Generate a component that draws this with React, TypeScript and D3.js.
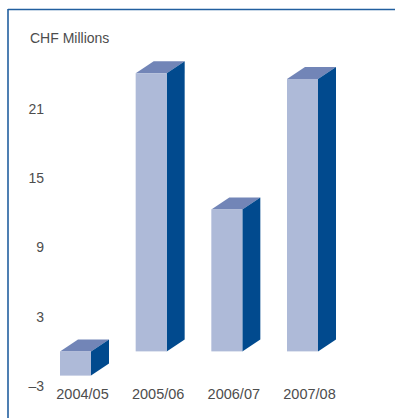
import React from 'react';
import * as d3 from 'd3';

// chart data
const categories = ['2004/05', '2005/06', '2006/07', '2007/08'];
const values = [-2.1, 24.1, 12.3, 23.6];
const tickValues = [-3, 3, 9, 15, 21];
const tickLabels = ['\u20133', '3', '9', '15', '21'];

const App = () => {
  const width = 395;
  const height = 418;
  const font = 'Liberation Sans, Arial, Helvetica, sans-serif';
  const textColor = '#4d4d4d';

  // colours of the 3d bar faces
  const front = '#aebad8';
  const side = '#014a8e';
  const top = '#7285b7';

  // y scale: -3 sits at 386, 21 at 109
  const yScale = d3.scaleLinear().domain([-3, 21]).range([386, 109]);
  // bar centres
  const xScale = d3.scalePoint<string>().domain(categories).range([75.5, 302.5]);

  const barW = 31;
  const dx = 18;
  const dy = 12;

  return (
    <svg width={width} height={height} style={{ position: 'absolute', left: 0, top: 0 }}>
      <rect width={width} height={height} fill="#fff" />
      {/* frame */}
      <line x1={8} y1={9.5} x2={width} y2={9.5} stroke="#225f9f" strokeWidth={1.6} />
      <line x1={8} y1={9} x2={8} y2={height} stroke="#225f9f" strokeWidth={1.6} />

      <text x={30} y={42.5} fontFamily={font} fontSize={14} fill={textColor}>CHF Millions</text>

      {/* y tick labels */}
      {tickValues.map((t, i) => (
        <text key={t} x={44} y={yScale(t)} dy="0.35em" textAnchor="end"
          fontFamily={font} fontSize={14} fill={textColor}>{tickLabels[i]}</text>
      ))}

      {/* bars */}
      {categories.map((c, i) => {
        const cx = xScale(c)!;
        const x0 = cx - barW / 2;
        const x1 = cx + barW / 2;
        const yTop = Math.min(yScale(0), yScale(values[i]));
        const yBot = Math.max(yScale(0), yScale(values[i]));
        return (
          <g key={c}>
            <polygon fill={top}
              points={`${x0},${yTop} ${x0 + dx},${yTop - dy} ${x1 + dx},${yTop - dy} ${x1},${yTop}`} />
            <polygon fill={side}
              points={`${x1},${yTop} ${x1 + dx},${yTop - dy} ${x1 + dx},${yBot - dy} ${x1},${yBot}`} />
            <rect x={x0} y={yTop} width={barW} height={yBot - yTop} fill={front} />
          </g>
        );
      })}

      {/* x labels */}
      {categories.map(c => (
        <text key={c} x={xScale(c)! + 7} y={399} textAnchor="middle"
          fontFamily={font} fontSize={14.5} fill={textColor}>{c}</text>
      ))}
    </svg>
  );
};

export default App;
